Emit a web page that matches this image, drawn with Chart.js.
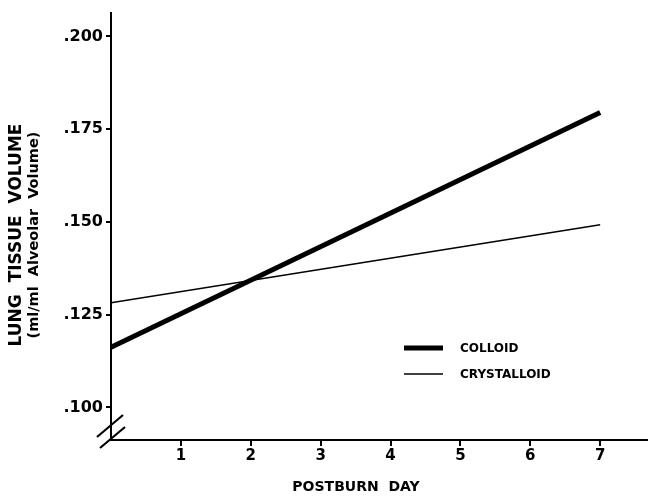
<!DOCTYPE html>
<html>
<head>
<meta charset="utf-8">
<script src="https://cdn.jsdelivr.net/npm/chart.js@4"></script>
<style>
  html, body { margin: 0; padding: 0; background: #fff; }
  #wrap { width: 651px; height: 498px; position: relative; }
</style>
</head>
<body>
<div id="wrap"><canvas id="lungChart"></canvas></div>
<script>
// data
const days = [0, 7];
const colloid = [0.1162, 0.1795];
const crystalloid = [0.1282, 0.1492];
const seriesLabels = ['COLLOID', 'CRYSTALLOID'];
const xTicks = [1, 2, 3, 4, 5, 6, 7];
const yTicks = [0.100, 0.125, 0.150, 0.175, 0.200];
const yTickLabels = ['.100', '.125', '.150', '.175', '.200'];
const xTitle = 'POSTBURN  DAY';
const yTitle = ['LUNG  TISSUE  VOLUME', '(ml/ml  Alveolar  Volume)'];

const font = 'DejaVu Sans';

function toPoints(vals) {
    return days.map(function(d, i) { return { x: d, y: vals[i] }; });
}

// axis break slashes at the corner
const breakMarks = {
    id: 'breakMarks',
    afterDraw: function(chart) {
        const ctx = chart.ctx;
        const x0 = chart.chartArea.left;
        const y0 = chart.chartArea.bottom;
        ctx.save();
        ctx.strokeStyle = '#000';
        ctx.lineWidth = 2.2;
        [[-14, -3, 12, -25], [-11, 8, 14, -13]].forEach(function(s) {
            ctx.beginPath();
            ctx.moveTo(x0 + s[0], y0 + s[1]);
            ctx.lineTo(x0 + s[2], y0 + s[3]);
            ctx.stroke();
        });
        ctx.restore();
    }
};

// legend drawn inside the plot, axis titles placed like the original
const annotations = {
    id: 'annotations',
    afterDraw: function(chart) {
        const ctx = chart.ctx;
        ctx.save();
        ctx.fillStyle = '#000';
        chart.data.datasets.forEach(function(ds, i) {
            const y = 348 + i * 26;
            ctx.strokeStyle = '#000';
            ctx.lineWidth = ds.borderWidth;
            ctx.beginPath();
            ctx.moveTo(404, y);
            ctx.lineTo(443, y);
            ctx.stroke();
            ctx.font = 'bold 12px ' + font;
            ctx.textBaseline = 'middle';
            ctx.textAlign = 'left';
            ctx.fillText(ds.label, 460, y + 1);
        });

        ctx.textAlign = 'center';
        ctx.textBaseline = 'middle';
        ctx.font = 'bold 14px ' + font;
        ctx.fillText(xTitle, 356, 487);

        ctx.translate(17, 235);
        ctx.rotate(-Math.PI / 2);
        ctx.font = 'bold 17px ' + font;
        ctx.fillText(yTitle[0], 0, 0);
        ctx.font = 'bold 14.5px ' + font;
        ctx.fillText(yTitle[1], 0, 17);
        ctx.restore();
    }
};

const ctx = document.getElementById('lungChart').getContext('2d');
const lungChart = new Chart(ctx, {
    type: 'line',
    data: {
        datasets: [
            {
                label: seriesLabels[0],
                data: toPoints(colloid),
                borderColor: '#000',
                borderWidth: 5,
                pointRadius: 0,
                borderCapStyle: 'butt'
            },
            {
                label: seriesLabels[1],
                data: toPoints(crystalloid),
                borderColor: '#000',
                borderWidth: 1.6,
                pointRadius: 0
            }
        ]
    },
    options: {
        responsive: true,
        maintainAspectRatio: false,
        animation: false,
        layout: { padding: { top: 8, right: 4 } },
        plugins: {
            legend: { display: false },
            tooltip: { enabled: false }
        },
        scales: {
            x: {
                type: 'linear',
                min: 0,
                max: 7.67,
                afterBuildTicks: function(axis) {
                    axis.ticks = xTicks.map(function(v) { return { value: v }; });
                },
                afterFit: function(axis) { axis.height = 58; },
                border: { color: '#000', width: 2 },
                grid: { drawOnChartArea: false, drawTicks: true, tickLength: 6, color: '#000', lineWidth: 2 },
                ticks: {
                    color: '#000',
                    padding: 1,
                    font: { family: font, size: 15, weight: 'bold' }
                }
            },
            y: {
                type: 'linear',
                min: 0.0912,
                max: 0.2064,
                afterBuildTicks: function(axis) {
                    axis.ticks = yTicks.map(function(v) { return { value: v }; });
                },
                afterFit: function(axis) { axis.width = 111; },
                border: { color: '#000', width: 2 },
                grid: { drawOnChartArea: false, drawTicks: true, tickLength: 5, color: '#000', lineWidth: 2 },
                ticks: {
                    color: '#000',
                    padding: 3,
                    font: { family: font, size: 16, weight: 'bold' },
                    callback: function(value) {
                        const i = yTicks.indexOf(value);
                        return i >= 0 ? yTickLabels[i] : '';
                    }
                }
            }
        }
    },
    plugins: [breakMarks, annotations]
});
</script>
</body>
</html>
